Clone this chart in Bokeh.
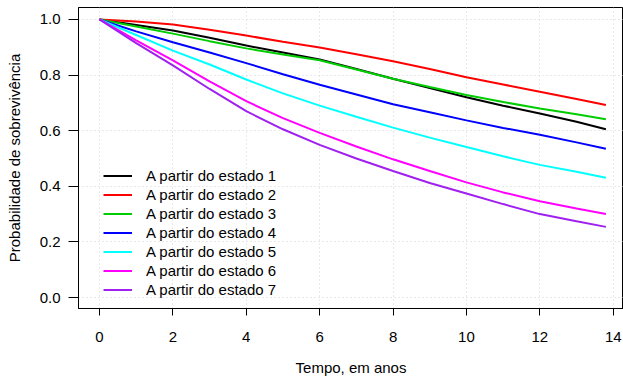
from bokeh.plotting import figure
from bokeh.models import Range1d, FixedTicker, PrintfTickFormatter, Legend, LegendItem
from bokeh.embed import file_html
from bokeh.resources import INLINE

# ---- data ----
tempo = [0, 1, 2, 3, 4, 5, 6, 7, 8, 9, 10, 11, 12, 13, 13.8]
estado_1 = [1.0, 0.980, 0.960, 0.934, 0.906, 0.881, 0.856, 0.822, 0.787, 0.753, 0.720, 0.690, 0.662, 0.632, 0.605]
estado_2 = [1.0, 0.993, 0.982, 0.963, 0.942, 0.920, 0.899, 0.875, 0.850, 0.822, 0.792, 0.766, 0.740, 0.714, 0.692]
estado_3 = [1.0, 0.975, 0.949, 0.922, 0.896, 0.874, 0.853, 0.820, 0.787, 0.757, 0.728, 0.703, 0.680, 0.659, 0.641]
estado_4 = [1.0, 0.957, 0.918, 0.881, 0.843, 0.803, 0.765, 0.730, 0.695, 0.666, 0.637, 0.610, 0.585, 0.558, 0.535]
estado_5 = [1.0, 0.944, 0.888, 0.838, 0.784, 0.734, 0.690, 0.650, 0.611, 0.575, 0.541, 0.508, 0.477, 0.452, 0.431]
estado_6 = [1.0, 0.925, 0.853, 0.777, 0.706, 0.645, 0.592, 0.543, 0.497, 0.455, 0.414, 0.378, 0.346, 0.320, 0.300]
estado_7 = [1.0, 0.915, 0.835, 0.750, 0.670, 0.605, 0.549, 0.500, 0.455, 0.412, 0.374, 0.336, 0.300, 0.274, 0.254]

series = [estado_1, estado_2, estado_3, estado_4, estado_5, estado_6, estado_7]
labels = ["A partir do estado 1", "A partir do estado 2", "A partir do estado 3",
          "A partir do estado 4", "A partir do estado 5", "A partir do estado 6",
          "A partir do estado 7"]
colors = ["#000000", "#FF0000", "#00CD00", "#0000FF", "#00FFFF", "#FF00FF", "#A020F0"]

x_ticks = [0, 2, 4, 6, 8, 10, 12, 14]
y_ticks = [0.0, 0.2, 0.4, 0.6, 0.8, 1.0]

FONT = "Liberation Sans"

p = figure(width=623, height=382, output_backend="svg", toolbar_location=None,
           x_range=Range1d(-0.572, 14.28), y_range=Range1d(-0.0395, 1.043),
           min_border_left=78, min_border_right=0, min_border_top=7, min_border_bottom=74)

p.background_fill_color = "white"
p.border_fill_color = "white"
p.outline_line_color = "black"
p.outline_line_width = 1

for ax in (p.xaxis[0], p.yaxis[0]):
    ax.axis_line_color = "black"
    ax.major_tick_line_color = "black"
    ax.minor_tick_line_color = None
    ax.major_tick_in = 0
    ax.major_label_text_font = FONT
    ax.major_label_text_font_size = "15px"
    ax.major_label_text_color = "black"
    ax.axis_label_text_font = FONT
    ax.axis_label_text_font_size = "15px"
    ax.axis_label_text_font_style = "normal"
    ax.axis_label_text_color = "black"

p.xaxis.ticker = FixedTicker(ticks=x_ticks)
p.yaxis.ticker = FixedTicker(ticks=y_ticks)
p.yaxis.formatter = PrintfTickFormatter(format="%.1f")
p.xaxis.major_tick_out = 7
p.yaxis.major_tick_out = 10
p.xaxis.major_label_standoff = 16
p.yaxis.major_label_standoff = 8
p.xaxis.axis_label = "Tempo, em anos"
p.yaxis.axis_label = "Probabilidade de sobrevivência"
p.xaxis.axis_label_standoff = 14
p.yaxis.axis_label_standoff = 14

p.xgrid.ticker = FixedTicker(ticks=x_ticks)
p.ygrid.ticker = FixedTicker(ticks=y_ticks)
for g in (p.xgrid[0], p.ygrid[0]):
    g.grid_line_color = "#d3d3d3"
    g.grid_line_dash = "1 3"
    g.grid_line_width = 1

items = []
for ys, lab, col in zip(series, labels, colors):
    r = p.line(tempo, ys, line_color=col, line_width=2)
    items.append(LegendItem(label=lab, renderers=[r]))

legend = Legend(items=items, location=(25, 9), padding=0, margin=0, spacing=0,
                label_height=19, glyph_height=19, glyph_width=29, label_standoff=14,
                label_text_font=FONT, label_text_font_size="15px",
                label_text_color="black",
                background_fill_alpha=0, border_line_color=None)
p.add_layout(legend, "center")

open("out.html", "w").write(file_html(p, INLINE))
